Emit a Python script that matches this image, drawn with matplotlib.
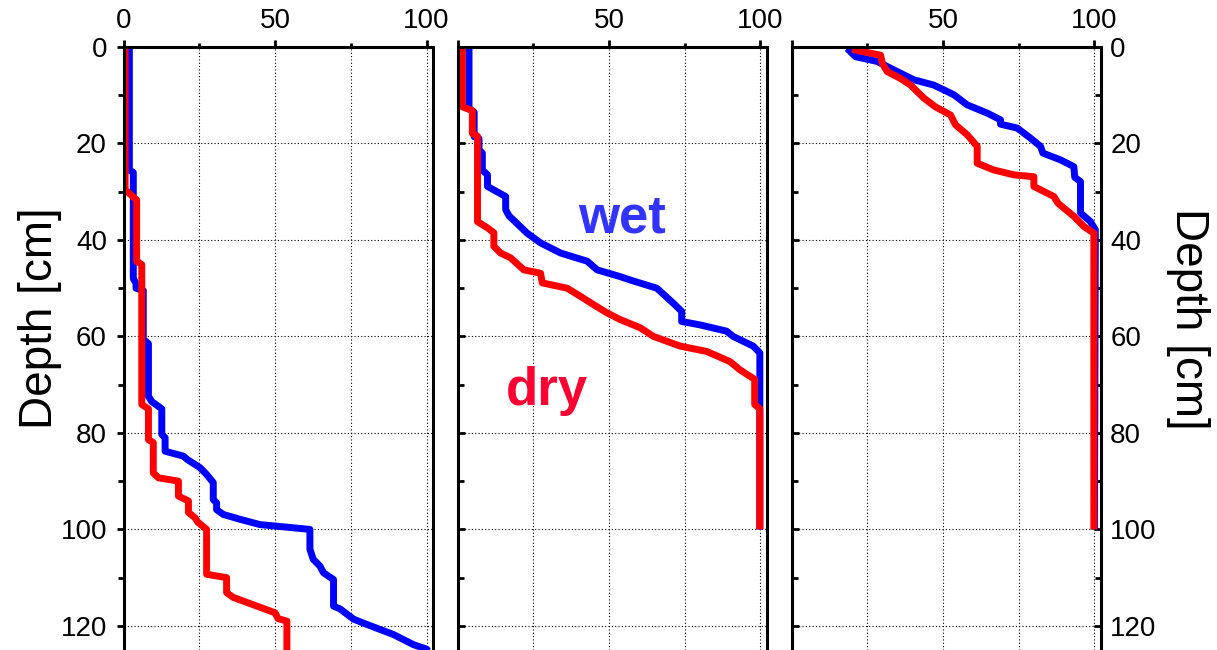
import matplotlib
matplotlib.use('Agg')
import matplotlib.pyplot as plt

plt.rcParams['font.family'] = ['Liberation Sans', 'DejaVu Sans']

# panel 1
wet1_x = [1.9, 1.9, 3.2, 3.2, 4.1, 4.1, 6.5, 6.5, 8.2, 8.2, 9.3, 12.6, 12.6, 13.7, 13.7,
          19.7, 21.0, 25.2, 27.4, 29.6, 29.6, 30.7, 30.7, 32.9, 38.4, 45.0, 61.5, 61.5,
          62.6, 64.8, 66.0, 69.3, 69.3, 71.5, 75.9, 80.3, 89.1, 95.7, 100.0, 101.0]
wet1_depth = [0, 25.5, 26.0, 48.0, 49.0, 50.0, 50.5, 60.6, 61.5, 72.4, 73.5, 75.0, 80.3, 81.0, 83.8,
              84.8, 85.5, 87.2, 88.6, 90.3, 93.8, 94.5, 95.9, 96.9, 97.9, 99.0, 100.0, 104.1,
              106.2, 107.6, 109.0, 110.4, 115.9, 116.5, 118.6, 119.7, 121.8, 123.9, 124.8, 125.5]
dry1_x = [0.5, 0.5, 1.6, 4.3, 4.3, 6.0, 6.0, 8.2, 8.2, 9.8, 9.8, 11.5, 18.1, 18.1, 21.4, 21.4,
          23.6, 24.5, 27.4, 27.4, 34.0, 34.0, 36.2, 44.0, 50.0, 51.0, 53.9, 53.9]
dry1_depth = [0, 29.6, 30.2, 31.7, 44.4, 45.1, 74.1, 75.0, 81.4, 82.0, 88.3, 89.3, 90.0, 93.1, 94.1, 96.5,
              97.6, 98.5, 100.0, 109.3, 110.0, 113.1, 114.1, 115.9, 117.3, 118.5, 119.0, 126.0]

# panel 2
wet2_x = [3.8, 3.8, 5.5, 5.5, 7.1, 7.1, 8.2, 8.2, 9.9, 9.9, 15.9, 15.9, 17.0, 23.0, 27.4, 34.0,
          42.8, 46.1, 53.7, 57.0, 65.8, 71.2, 74.0, 74.0, 80.0, 88.8, 91.0, 97.6, 99.8, 99.8]
wet2_depth = [0, 12.7, 13.5, 18.6, 19.0, 21.3, 22.0, 25.5, 26.5, 28.9, 31.0, 33.7, 35.0, 38.6, 40.6, 42.7,
              44.4, 46.2, 47.6, 48.3, 50.0, 53.1, 54.8, 56.9, 57.6, 58.9, 60.0, 62.0, 63.4, 100.0]
dry2_x = [1.6, 1.6, 4.9, 4.9, 6.6, 6.6, 9.9, 12.0, 12.0, 14.2, 17.5, 21.9, 27.4, 28.0, 36.2, 40.6,
          44.9, 49.3, 53.7, 60.3, 64.7, 73.5, 82.2, 89.9, 93.2, 98.1, 98.1, 99.8, 99.8]
dry2_depth = [0, 12.4, 13.2, 17.9, 18.5, 36.2, 37.5, 38.5, 41.3, 42.7, 43.7, 46.2, 46.9, 48.9, 50.0, 51.7,
              53.4, 55.1, 56.5, 58.2, 60.0, 62.0, 63.1, 65.2, 66.9, 68.9, 74.1, 75.0, 100.0]

# panel 3
wet3_x = [18.4, 21.1, 28.3, 32.7, 34.9, 40.4, 47.0, 53.6, 58.0, 64.6, 69.0, 69.0, 74.5, 78.9, 82.2,
          83.0, 88.8, 93.2, 93.5, 95.4, 95.4, 98.7, 100.3, 100.0]
wet3_depth = [0.3, 2.0, 3.0, 4.4, 5.1, 6.8, 7.9, 9.9, 12.0, 13.7, 15.1, 16.0, 16.8, 18.9, 20.6,
              22.0, 23.4, 24.8, 27.0, 27.9, 34.4, 36.2, 37.9, 100.0]
dry3_x = [20.0, 29.4, 30.0, 31.6, 35.9, 39.3, 43.7, 47.5, 52.5, 54.1, 58.0, 61.3, 61.3, 66.8, 73.4,
          80.0, 80.0, 86.6, 88.0, 93.2, 96.5, 99.8, 99.8]
dry3_depth = [0.5, 1.7, 3.4, 5.1, 6.5, 7.9, 10.6, 12.4, 14.1, 16.1, 18.2, 20.6, 24.1, 25.5, 26.5,
              26.9, 28.9, 31.0, 32.4, 35.1, 37.2, 38.6, 100.0]

wet = [(wet1_x, wet1_depth), (wet2_x, wet2_depth), (wet3_x, wet3_depth)]
dry = [(dry1_x, dry1_depth), (dry2_x, dry2_depth), (dry3_x, dry3_depth)]

fig = plt.figure(figsize=(12.17, 6.5), dpi=100)
lefts = [123.6, 457.5, 791.5]
axes = []
for i in range(3):
    ax = fig.add_axes([lefts[i] / 1217, 0, 309.0 / 1217, 603 / 650])
    ax.plot(wet[i][0], wet[i][1], color='#0000ff', lw=5, solid_capstyle='butt')
    ax.plot(dry[i][0], dry[i][1], color='#ff0000', lw=5, solid_capstyle='butt')
    ax.set_xlim(0, 102)
    ax.set_ylim(125, 0)
    ax.set_axisbelow(True)
    ax.xaxis.tick_top()
    ax.set_xticks([0, 50, 100])
    ax.set_xticks([25, 75], minor=True)
    ax.set_yticks(range(0, 121, 20))
    ax.set_yticks(range(10, 121, 20), minor=True)
    ax.grid(axis='x', which='both', color='k', linestyle=(0, (1, 2)), linewidth=0.8)
    ax.grid(axis='y', which='major', color='k', linestyle=(0, (1, 2)), linewidth=0.8)
    for s in ['top', 'left', 'right']:
        ax.spines[s].set_linewidth(2.2)
    ax.spines['bottom'].set_visible(False)
    ax.tick_params(axis='x', which='both', top=True, bottom=False, labeltop=True,
                   labelbottom=False, direction='out', width=2, labelsize=20, pad=4)
    ax.tick_params(axis='x', which='major', length=5)
    ax.tick_params(axis='x', which='minor', length=3)
    ax.tick_params(axis='y', which='both', width=2, labelsize=20, pad=7)
    ax.tick_params(axis='y', which='major', length=5)
    ax.tick_params(axis='y', which='minor', length=4)
    if i > 0:
        ax.set_xticklabels(['', '50', '100'])
    axes.append(ax)

ax1, ax2, ax3 = axes
ax1.tick_params(axis='y', which='both', direction='out', left=True, right=False)
ax1.set_ylabel('Depth [cm]', fontsize=33)
ax1.yaxis.set_label_coords(-0.27, 0.55)
ax1.yaxis.label.set_va('center')

ax2.tick_params(axis='y', which='both', direction='in', left=True, right=False, labelleft=False)

ax3.tick_params(axis='y', which='both', direction='in', left=True, right=True,
                labelleft=False, labelright=True)
ax3.yaxis.set_label_position('right')
ax3.set_ylabel('Depth [cm]', fontsize=33, rotation=270)
ax3.yaxis.set_label_coords(1.284, 0.55)
ax3.yaxis.label.set_va('center')

ax2.text(54.2, 38.4, 'wet', color='#3333ff', fontsize=38, fontweight='bold', ha='center', va='baseline')
ax2.text(29.4, 74.2, 'dry', color='#ff0033', fontsize=38, fontweight='bold', ha='center', va='baseline')

plt.savefig('out.png', dpi=100)
